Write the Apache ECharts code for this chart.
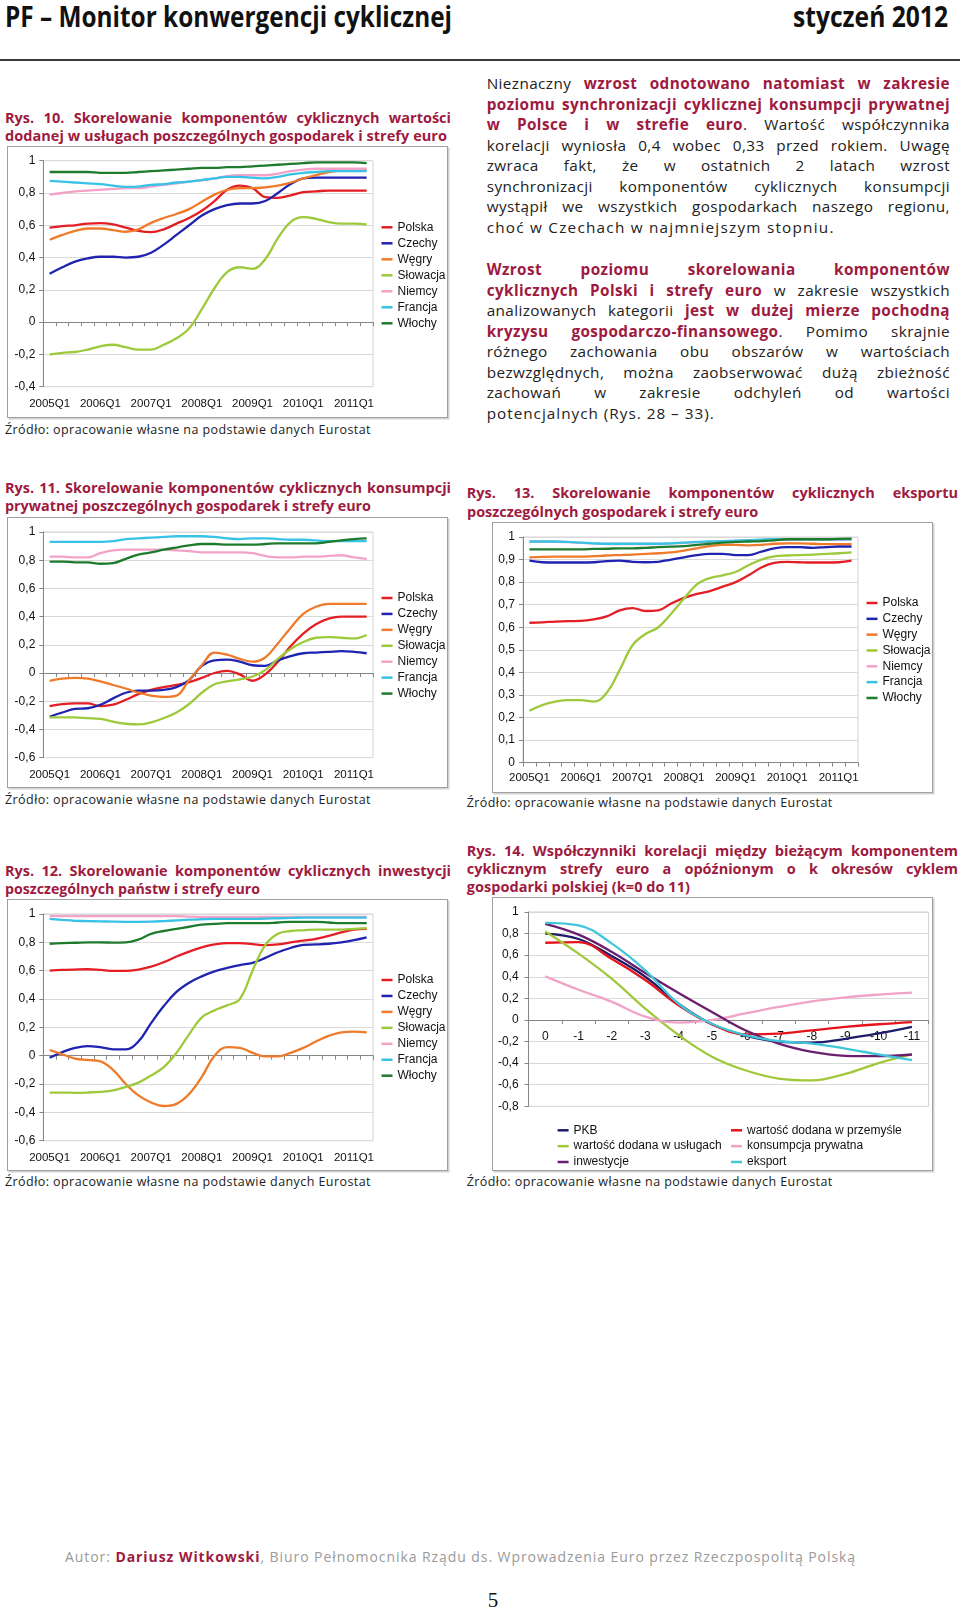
<!DOCTYPE html>
<html><head><meta charset="utf-8">
<script src="https://cdn.jsdelivr.net/npm/echarts@6/dist/echarts.min.js"></script>
<style>
body{margin:0;width:960px;height:1612px;position:relative;background:#fff;font-family:'Open Sans',sans-serif;overflow:hidden}
.ln{position:absolute;white-space:nowrap}
.hd{font-weight:bold;font-size:28px;line-height:30px;height:30px;color:#111}
.cap{font-weight:bold;color:#9e1a40;font-size:14.5px;line-height:18px;height:18px}
.body{font-size:15.3px;line-height:20.6px;height:20.6px;color:#222;letter-spacing:0.4px}
.r{color:#9e1a40;font-weight:bold}
.src{font-size:12.5px;line-height:16px;height:16px;color:#222}
.box{position:absolute;border:1px solid #a0a0a0;box-shadow:1.5px 1.5px 0 #d2d2d2;box-sizing:border-box;background:#fff}
.ch{position:absolute}
</style></head><body>
<script>
// ---------- DATA ----------
const quarters = ['2005Q1','2005Q2','2005Q3','2005Q4','2006Q1','2006Q2','2006Q3','2006Q4','2007Q1','2007Q2','2007Q3','2007Q4','2008Q1','2008Q2','2008Q3','2008Q4','2009Q1','2009Q2','2009Q3','2009Q4','2010Q1','2010Q2','2010Q3','2010Q4','2011Q1','2011Q2'];
const countries = ['Polska','Czechy','Węgry','Słowacja','Niemcy','Francja','Włochy'];
const countryColors = ['#e31e24','#1f23b0','#ef7a2a','#9dc93b','#f2a3c7','#38c3e6','#1e7b2e'];

// Rys. 10 – wartość dodana w usługach
const uslugi_polska   = [0.585,0.595,0.6,0.61,0.613,0.605,0.585,0.565,0.557,0.575,0.61,0.645,0.69,0.75,0.82,0.845,0.83,0.775,0.77,0.785,0.805,0.81,0.815,0.815,0.815,0.815];
const uslugi_czechy   = [0.3,0.34,0.375,0.395,0.405,0.405,0.4,0.405,0.43,0.48,0.54,0.6,0.66,0.7,0.725,0.735,0.735,0.75,0.8,0.855,0.89,0.895,0.895,0.895,0.895,0.895];
const uslugi_wegry    = [0.51,0.54,0.565,0.58,0.58,0.57,0.56,0.575,0.615,0.645,0.67,0.7,0.745,0.79,0.82,0.83,0.83,0.835,0.845,0.865,0.89,0.91,0.93,0.94,0.945,0.945];
const uslugi_slowacja = [-0.2,-0.19,-0.185,-0.17,-0.15,-0.14,-0.155,-0.17,-0.17,-0.14,-0.1,-0.04,0.08,0.21,0.31,0.34,0.33,0.39,0.52,0.62,0.65,0.64,0.62,0.61,0.61,0.605];
const uslugi_niemcy   = [0.79,0.8,0.81,0.815,0.82,0.825,0.83,0.83,0.84,0.85,0.86,0.87,0.88,0.89,0.905,0.91,0.91,0.91,0.92,0.935,0.945,0.95,0.95,0.95,0.95,0.95];
const uslugi_francja  = [0.875,0.87,0.865,0.86,0.855,0.845,0.838,0.84,0.85,0.855,0.865,0.87,0.88,0.89,0.9,0.9,0.895,0.89,0.9,0.915,0.925,0.93,0.935,0.935,0.935,0.935];
const uslugi_wlochy   = [0.93,0.93,0.93,0.93,0.925,0.925,0.925,0.93,0.935,0.94,0.945,0.95,0.955,0.955,0.96,0.96,0.965,0.97,0.975,0.98,0.985,0.99,0.99,0.99,0.99,0.985];

// Rys. 11 – konsumpcja prywatna
const kons_polska   = [-0.235,-0.22,-0.215,-0.215,-0.235,-0.225,-0.19,-0.15,-0.12,-0.1,-0.085,-0.065,-0.035,0.0,0.015,-0.01,-0.055,-0.01,0.08,0.19,0.28,0.345,0.385,0.4,0.4,0.4];
const kons_czechy   = [-0.31,-0.28,-0.255,-0.25,-0.225,-0.18,-0.14,-0.125,-0.125,-0.12,-0.1,-0.05,0.05,0.09,0.095,0.08,0.055,0.05,0.09,0.12,0.14,0.145,0.15,0.155,0.15,0.14];
const kons_wegry    = [-0.055,-0.04,-0.035,-0.04,-0.06,-0.085,-0.11,-0.14,-0.16,-0.17,-0.16,-0.05,0.055,0.145,0.13,0.1,0.08,0.11,0.21,0.32,0.42,0.47,0.49,0.49,0.49,0.49];
const kons_slowacja = [-0.315,-0.315,-0.315,-0.32,-0.325,-0.345,-0.36,-0.365,-0.35,-0.32,-0.28,-0.22,-0.14,-0.08,-0.06,-0.045,-0.025,0.02,0.1,0.17,0.22,0.25,0.255,0.25,0.245,0.27];
const kons_niemcy   = [0.825,0.825,0.82,0.82,0.85,0.87,0.875,0.875,0.875,0.875,0.87,0.865,0.855,0.855,0.855,0.855,0.85,0.83,0.82,0.82,0.825,0.825,0.83,0.835,0.82,0.81];
const kons_francja  = [0.93,0.93,0.93,0.93,0.93,0.935,0.95,0.955,0.96,0.965,0.97,0.97,0.97,0.965,0.955,0.95,0.955,0.955,0.95,0.945,0.945,0.94,0.935,0.935,0.935,0.935];
const kons_wlochy   = [0.79,0.79,0.785,0.785,0.775,0.78,0.81,0.84,0.855,0.875,0.89,0.905,0.915,0.915,0.91,0.91,0.91,0.915,0.92,0.92,0.92,0.92,0.93,0.94,0.95,0.955];

// Rys. 13 – eksport
const eksp_polska   = [0.62,0.622,0.625,0.627,0.628,0.635,0.648,0.675,0.685,0.672,0.675,0.705,0.73,0.748,0.76,0.78,0.8,0.83,0.865,0.885,0.89,0.888,0.887,0.887,0.888,0.895];
const eksp_czechy   = [0.895,0.888,0.887,0.887,0.887,0.888,0.893,0.895,0.89,0.888,0.89,0.9,0.91,0.92,0.925,0.925,0.92,0.92,0.935,0.95,0.955,0.955,0.952,0.955,0.958,0.958];
const eksp_wegry    = [0.91,0.912,0.913,0.913,0.913,0.915,0.918,0.92,0.922,0.925,0.928,0.932,0.94,0.95,0.96,0.965,0.965,0.963,0.965,0.97,0.972,0.972,0.97,0.968,0.968,0.968];
const eksp_slowacja = [0.23,0.255,0.27,0.277,0.277,0.27,0.31,0.41,0.52,0.57,0.6,0.66,0.727,0.79,0.818,0.83,0.845,0.875,0.9,0.914,0.918,0.92,0.922,0.925,0.928,0.932];
const eksp_niemcy   = [0.979,0.979,0.979,0.977,0.974,0.971,0.969,0.969,0.969,0.969,0.969,0.971,0.974,0.977,0.979,0.981,0.983,0.985,0.987,0.989,0.989,0.989,0.989,0.989,0.989,0.989];
const eksp_francja  = [0.98,0.98,0.98,0.978,0.975,0.972,0.97,0.97,0.97,0.97,0.97,0.972,0.975,0.978,0.98,0.982,0.984,0.986,0.988,0.99,0.99,0.99,0.99,0.99,0.99,0.99];
const eksp_wlochy   = [0.945,0.945,0.945,0.945,0.945,0.947,0.948,0.95,0.95,0.952,0.955,0.957,0.96,0.965,0.97,0.975,0.978,0.98,0.982,0.985,0.99,0.99,0.99,0.99,0.992,0.993];

// Rys. 12 – inwestycje
const inw_polska   = [0.6,0.605,0.608,0.61,0.605,0.598,0.598,0.608,0.628,0.66,0.7,0.735,0.765,0.785,0.795,0.795,0.787,0.78,0.785,0.8,0.812,0.825,0.845,0.87,0.89,0.895];
const inw_czechy   = [-0.015,0.025,0.055,0.068,0.06,0.045,0.045,0.1,0.23,0.35,0.45,0.515,0.56,0.595,0.62,0.64,0.655,0.69,0.73,0.76,0.782,0.785,0.79,0.8,0.815,0.835];
const inw_wegry    = [0.04,0.01,-0.02,-0.03,-0.04,-0.1,-0.2,-0.28,-0.33,-0.355,-0.34,-0.27,-0.15,0.0,0.06,0.055,0.02,-0.005,-0.005,0.02,0.055,0.1,0.14,0.165,0.17,0.165];
const inw_slowacja = [-0.26,-0.26,-0.262,-0.26,-0.255,-0.245,-0.22,-0.19,-0.14,-0.08,0.02,0.15,0.27,0.32,0.355,0.4,0.6,0.78,0.86,0.88,0.885,0.89,0.89,0.89,0.895,0.9];
const inw_niemcy   = [0.985,0.985,0.985,0.985,0.985,0.985,0.985,0.985,0.985,0.985,0.985,0.982,0.98,0.98,0.98,0.98,0.98,0.98,0.98,0.98,0.98,0.98,0.98,0.98,0.98,0.98];
const inw_francja  = [0.965,0.958,0.952,0.95,0.948,0.946,0.945,0.945,0.946,0.95,0.955,0.96,0.963,0.965,0.965,0.965,0.965,0.968,0.97,0.972,0.975,0.975,0.975,0.975,0.975,0.975];
const inw_wlochy   = [0.79,0.795,0.797,0.8,0.8,0.798,0.8,0.82,0.86,0.88,0.895,0.91,0.925,0.93,0.935,0.935,0.935,0.935,0.94,0.945,0.945,0.945,0.94,0.935,0.935,0.935];

// Rys. 14 – korelacje z opóźnieniem k
const lags = ['0','-1','-2','-3','-4','-5','-6','-7','-8','-9','-10','-11'];
const lagNames = ['PKB','wartość dodana w przemyśle','wartość dodana w usługach','konsumpcja prywatna','inwestycje','eksport'];
const lagColors = ['#1f1c6b','#e3141b','#a1c83a','#f0a3c6','#6a1f6e','#41c6d9'];
const lag_pkb        = [0.8,0.75,0.59,0.4,0.15,-0.04,-0.145,-0.2,-0.21,-0.175,-0.125,-0.065];
const lag_przemysl   = [0.715,0.72,0.565,0.37,0.136,-0.04,-0.133,-0.127,-0.096,-0.065,-0.04,-0.02];
const lag_uslugi     = [0.82,0.614,0.38,0.105,-0.14,-0.34,-0.466,-0.543,-0.56,-0.5,-0.4,-0.32];
const lag_konsumpcja = [0.404,0.28,0.167,0.03,-0.025,0.0,0.06,0.12,0.173,0.21,0.235,0.253];
const lag_inwestycje = [0.89,0.79,0.63,0.435,0.25,0.074,-0.096,-0.22,-0.296,-0.333,-0.336,-0.32];
const lag_eksport    = [0.9,0.877,0.707,0.46,0.15,-0.035,-0.14,-0.195,-0.22,-0.265,-0.32,-0.373];
</script>

<!-- header -->
<div class="ln hd" data-w="447" data-m="f" style="left:5px;top:1px">PF – Monitor konwergencji cyklicznej</div>
<div class="ln hd" data-w="155" data-m="f" style="left:793px;top:1px">styczeń 2012</div>
<div style="position:absolute;left:0;top:59px;width:960px;height:2px;background:#3a3a3a"></div>

<!-- right column text -->
<div class="ln body" data-w="463.3" data-m="j" style="left:486.7px;top:73px">Nieznaczny <span class="r">wzrost odnotowano natomiast w zakresie</span></div>
<div class="ln body" data-w="463.3" data-m="j" style="left:486.7px;top:93.6px"><span class="r">poziomu synchronizacji cyklicznej konsumpcji prywatnej</span></div>
<div class="ln body" data-w="463.3" data-m="j" style="left:486.7px;top:114.1px"><span class="r">w Polsce i w strefie euro</span>. Wartość współczynnika</div>
<div class="ln body" data-w="463.3" data-m="j" style="left:486.7px;top:134.7px">korelacji wyniosła 0,4 wobec 0,33 przed rokiem. Uwagę</div>
<div class="ln body" data-w="463.3" data-m="j" style="left:486.7px;top:155.3px">zwraca fakt, że w ostatnich 2 latach wzrost</div>
<div class="ln body" data-w="463.3" data-m="j" style="left:486.7px;top:175.9px">synchronizacji komponentów cyklicznych konsumpcji</div>
<div class="ln body" data-w="463.3" data-m="j" style="left:486.7px;top:196.4px">wystąpił we wszystkich gospodarkach naszego regionu,</div>
<div class="ln body" data-w="348" data-m="f" style="left:486.7px;top:217px">choć w Czechach w najmniejszym stopniu.</div>

<div class="ln body" data-w="463.3" data-m="j" style="left:486.7px;top:259px"><span class="r">Wzrost poziomu skorelowania komponentów</span></div>
<div class="ln body" data-w="463.3" data-m="j" style="left:486.7px;top:279.5px"><span class="r">cyklicznych Polski i strefy euro</span> w zakresie wszystkich</div>
<div class="ln body" data-w="463.3" data-m="j" style="left:486.7px;top:300px">analizowanych kategorii <span class="r">jest w dużej mierze pochodną</span></div>
<div class="ln body" data-w="463.3" data-m="j" style="left:486.7px;top:320.5px"><span class="r">kryzysu gospodarczo-finansowego</span>. Pomimo skrajnie</div>
<div class="ln body" data-w="463.3" data-m="j" style="left:486.7px;top:341px">różnego zachowania obu obszarów w wartościach</div>
<div class="ln body" data-w="463.3" data-m="j" style="left:486.7px;top:361.5px">bezwzględnych, można zaobserwować dużą zbieżność</div>
<div class="ln body" data-w="463.3" data-m="j" style="left:486.7px;top:382px">zachowań w zakresie odchyleń od wartości</div>
<div class="ln body" data-w="228" data-m="f" style="left:486.7px;top:402.5px">potencjalnych (Rys. 28 – 33).</div>

<!-- captions -->
<div class="ln cap" data-w="446" data-m="j" style="left:5px;top:109.3px">Rys. 10. Skorelowanie komponentów cyklicznych wartości</div>
<div class="ln cap" data-w="442" data-m="f" style="left:5px;top:127px">dodanej w usługach poszczególnych gospodarek i strefy euro</div>

<div class="ln cap" data-w="446" data-m="j" style="left:5px;top:479.3px">Rys. 11. Skorelowanie komponentów cyklicznych konsumpcji</div>
<div class="ln cap" data-w="366" data-m="f" style="left:5px;top:497px">prywatnej poszczególnych gospodarek i strefy euro</div>

<div class="ln cap" data-w="491.3" data-m="j" style="left:466.7px;top:484.3px">Rys. 13. Skorelowanie komponentów cyklicznych eksportu</div>
<div class="ln cap" data-w="291.3" data-m="f" style="left:466.7px;top:502.7px">poszczególnych gospodarek i strefy euro</div>

<div class="ln cap" data-w="446" data-m="j" style="left:5px;top:861.7px">Rys. 12. Skorelowanie komponentów cyklicznych inwestycji</div>
<div class="ln cap" data-w="255" data-m="f" style="left:5px;top:880px">poszczególnych państw i strefy euro</div>

<div class="ln cap" data-w="491.3" data-m="j" style="left:466.7px;top:841.7px">Rys. 14. Współczynniki korelacji między bieżącym komponentem</div>
<div class="ln cap" data-w="491.3" data-m="j" style="left:466.7px;top:860px">cyklicznym strefy euro a opóźnionym o k okresów cyklem</div>
<div class="ln cap" data-w="223.3" data-m="f" style="left:466.7px;top:877.7px">gospodarki polskiej (k=0 do 11)</div>

<!-- chart boxes -->
<div class="box" style="left:7px;top:146px;width:441px;height:272px"></div>
<div class="ch" id="c10" style="left:7px;top:146px;width:441px;height:272px"></div>
<div class="ln src" data-w="366" data-m="f" style="left:5px;top:422px">Źródło: opracowanie własne na podstawie danych Eurostat</div>

<div class="box" style="left:7px;top:516.7px;width:441px;height:271.6px"></div>
<div class="ch" id="c11" style="left:7px;top:516.7px;width:441px;height:271.6px"></div>
<div class="ln src" data-w="366" data-m="f" style="left:5px;top:792px">Źródło: opracowanie własne na podstawie danych Eurostat</div>

<div class="box" style="left:492.3px;top:521.7px;width:441px;height:271.6px"></div>
<div class="ch" id="c13" style="left:492.3px;top:521.7px;width:441px;height:271.6px"></div>
<div class="ln src" data-w="366" data-m="f" style="left:466.7px;top:795.3px">Źródło: opracowanie własne na podstawie danych Eurostat</div>

<div class="box" style="left:7px;top:899px;width:441px;height:271.7px"></div>
<div class="ch" id="c12" style="left:7px;top:899px;width:441px;height:271.7px"></div>
<div class="ln src" data-w="366" data-m="f" style="left:5px;top:1174.3px">Źródło: opracowanie własne na podstawie danych Eurostat</div>

<div class="box" style="left:491.7px;top:896.7px;width:441px;height:274px"></div>
<div class="ch" id="c14" style="left:491.7px;top:896.7px;width:441px;height:274px"></div>
<div class="ln src" data-w="366" data-m="f" style="left:466.7px;top:1173.7px">Źródło: opracowanie własne na podstawie danych Eurostat</div>

<!-- footer -->
<div class="ln" data-w="791" data-m="f" style="left:65px;top:1548px;font-size:14px;line-height:18px;color:#9a9a9a">Autor: <span style="color:#9e1a40;font-weight:bold">Dariusz Witkowski</span>, Biuro Pełnomocnika Rządu ds. Wprowadzenia Euro przez Rzeczpospolitą Polską</div>
<div style="position:absolute;left:480px;width:26px;top:1588px;line-height:24px;text-align:center;font-family:'Liberation Serif',serif;font-size:21px;color:#111">5</div>

<script>
function fitLines(){
  document.querySelectorAll('[data-w]').forEach(function(el){
    var W = +el.dataset.w, mode = el.dataset.m || 'j';
    var base = parseFloat(getComputedStyle(el).letterSpacing) || 0;
    var span = document.createElement('span');
    span.innerHTML = el.innerHTML; el.innerHTML = ''; el.appendChild(span);
    span.style.display = 'inline-block'; span.style.transformOrigin = '0 0';
    var w = span.getBoundingClientRect().width;
    var txt = span.textContent, spaces = (txt.match(/ /g) || []).length;
    if (w > W) { span.style.transform = 'scaleX(' + (W / w) + ')'; }
    else if (mode === 'j' && spaces > 0) { span.style.wordSpacing = ((W - w) / spaces) + 'px'; }
    else if (mode === 'f') { span.style.letterSpacing = (base + (W - w) / txt.length) + 'px'; }
  });
}
if (document.fonts && document.fonts.ready) { document.fonts.ready.then(fitLines); } else { fitLines(); }

const FONT = 'Liberation Sans';
const AXIS_GRAY = '#868686';
function fmt(v){ return String(Math.round(v * 10) / 10).replace('.', ','); }
function mkLine(name, data, color){
  return {type:'line', name:name, data:data, smooth:0.4, symbol:'none', showSymbol:false,
          lineStyle:{width:2.3, color:color}, itemStyle:{color:color}, emphasis:{disabled:true}};
}
function yAxisCfg(min, max, interval, margin){
  return {type:'value', min:min, max:max, interval:interval,
    axisLine:{show:true, onZero:false, lineStyle:{color:AXIS_GRAY}},
    axisTick:{show:true, length:4, lineStyle:{color:AXIS_GRAY}},
    splitLine:{show:true, lineStyle:{color:'#d9d9d9', width:1}},
    axisLabel:{formatter:fmt, color:'#111', fontSize:12, fontFamily:FONT, margin:margin}};
}
function legendCfg(left, top, gap, data){
  return {orient:'vertical', left:left, top:top, padding:0, itemWidth:11, itemHeight:2.5, itemGap:gap,
    itemTextGap:3, icon:'rect', selectedMode:false, data:data,
    textStyle:{fontSize:12, color:'#111', lineHeight:14, fontFamily:FONT}};
}
// offset that moves a bottom x axis up to the value 0 of the y range
function zeroOffset(ymin, ymax, gridHeight){ return -((0 - ymin) / (ymax - ymin)) * gridHeight; }

function countryChart(id, grid, ymin, ymax, yint, seriesData, legTop, legGap, zeroAxis){
  const series = countries.map(function(n, i){ return mkLine(n, seriesData[i], countryColors[i]); });
  const xAxes = [{type:'category', data:quarters, boundaryGap:true, position:'bottom',
      axisLine:{show:!zeroAxis, onZero:false, lineStyle:{color:AXIS_GRAY}},
      axisTick:{show:!zeroAxis, interval:0, length:4, lineStyle:{color:AXIS_GRAY}},
      axisLabel:{interval:3, margin:zeroAxis ? 11 : 9, color:'#111', fontSize:11.5, fontFamily:FONT},
      splitLine:{show:false}}];
  if (zeroAxis) {
    xAxes.push({type:'category', data:quarters, boundaryGap:true, position:'bottom',
      offset:zeroOffset(ymin, ymax, grid.height),
      axisLine:{show:true, onZero:false, lineStyle:{color:AXIS_GRAY}},
      axisTick:{show:true, interval:0, length:4, lineStyle:{color:AXIS_GRAY}},
      axisLabel:{show:false}, splitLine:{show:false}});
  }
  const ch = echarts.init(document.getElementById(id), null, {renderer:'canvas'});
  ch.setOption({
    animation:false,
    textStyle:{fontFamily:FONT},
    grid:Object.assign({show:true, borderColor:'#d2d2d2', borderWidth:1, containLabel:false, outerBoundsMode:'none'}, grid),
    legend:legendCfg(374.5, legTop, legGap, countries),
    xAxis:xAxes,
    yAxis:yAxisCfg(ymin, ymax, yint, 8),
    series:series
  });
}

countryChart('c10', {left:36.3, top:14.7, width:329.7, height:226}, -0.4, 1, 0.2,
  [uslugi_polska, uslugi_czechy, uslugi_wegry, uslugi_slowacja, uslugi_niemcy, uslugi_francja, uslugi_wlochy], 74.3, 2, true);
countryChart('c11', {left:36.3, top:15, width:329.7, height:225.6}, -0.6, 1, 0.2,
  [kons_polska, kons_czechy, kons_wegry, kons_slowacja, kons_niemcy, kons_francja, kons_wlochy], 74, 1.93, true);
countryChart('c13', {left:31, top:15, width:335, height:225.6}, 0, 1, 0.1,
  [eksp_polska, eksp_czechy, eksp_wegry, eksp_slowacja, eksp_niemcy, eksp_francja, eksp_wlochy], 74, 1.83, false);
countryChart('c12', {left:36.3, top:15, width:329.7, height:226.7}, -0.6, 1, 0.2,
  [inw_polska, inw_czechy, inw_wegry, inw_slowacja, inw_niemcy, inw_francja, inw_wlochy], 74, 1.95, true);

(function(){
  const lagData = [lag_pkb, lag_przemysl, lag_uslugi, lag_konsumpcja, lag_inwestycje, lag_eksport];
  const series = lagNames.map(function(n, i){ return mkLine(n, lagData[i], lagColors[i]); });
  const ymin = -0.8, ymax = 1, gh = 194.3;
  const ch = echarts.init(document.getElementById('c14'), null, {renderer:'canvas'});
  ch.setOption({
    animation:false,
    textStyle:{fontFamily:FONT},
    grid:{left:36.6, top:15, width:400, height:gh, show:true, borderColor:'#d2d2d2', borderWidth:1, containLabel:false, outerBoundsMode:'none'},
    legend:[legendCfg(65.6, 226.3, 1.85, [lagNames[0], lagNames[2], lagNames[4]]),
            legendCfg(239, 226.3, 1.85, [lagNames[1], lagNames[3], lagNames[5]])],
    xAxis:{type:'category', data:lags, boundaryGap:true, position:'bottom',
      offset:zeroOffset(ymin, ymax, gh),
      axisLine:{show:true, onZero:false, lineStyle:{color:AXIS_GRAY}},
      axisTick:{show:true, interval:0, length:4, lineStyle:{color:AXIS_GRAY}},
      axisLabel:{interval:0, margin:11, color:'#111', fontSize:12, fontFamily:FONT}},
    yAxis:yAxisCfg(ymin, ymax, 0.2, 10),
    series:series
  });
})();
</script>
</body></html>
